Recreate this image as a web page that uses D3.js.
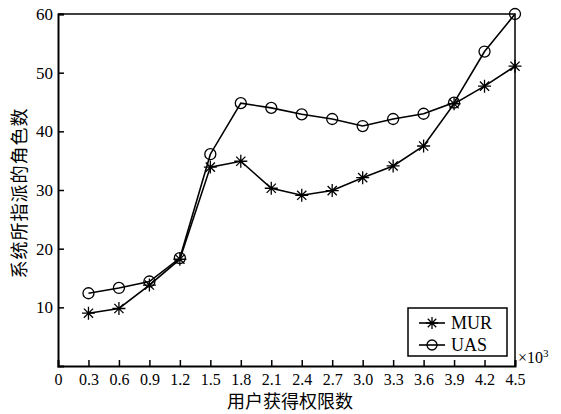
<!DOCTYPE html>
<html>
<head>
<meta charset="utf-8">
<script src="https://cdn.jsdelivr.net/npm/d3@7"></script>
<style>
  body { margin: 0; background: #fff; }
  svg text { fill: #000; }
</style>
</head>
<body>
<div id="chart"></div>
<script>
// values (x in thousands)
const xValues = [0.3, 0.6, 0.9, 1.2, 1.5, 1.8, 2.1, 2.4, 2.7, 3.0, 3.3, 3.6, 3.9, 4.2, 4.5];
const murValues = [9.0, 9.8, 13.8, 18.2, 33.9, 34.9, 30.3, 29.1, 29.9, 32.1, 34.1, 37.5, 44.7, 47.7, 51.1];
const uasValues = [12.4, 13.3, 14.4, 18.4, 36.1, 44.8, 44.0, 42.9, 42.1, 40.9, 42.1, 43.0, 44.9, 53.6, 60.0];
const xTickLabels = ["0", "0.3", "0.6", "0.9", "1.2", "1.5", "1.8", "2.1", "2.4", "2.7", "3.0", "3.3", "3.6", "3.9", "4.2", "4.5"];
const yTicks = [10, 20, 30, 40, 50, 60];
const seriesNames = ["MUR", "UAS"];

function draw() {
    const width = 561;
    const height = 414;
    const margin = { left: 58, right: 46, top: 14, bottom: 48 };

    const svg = d3.select("#chart")
        .append("svg")
        .attr("width", width)
        .attr("height", height);

    const x = d3.scaleLinear()
        .domain([0, 4.5])
        .range([margin.left, width - margin.right]);

    const y = d3.scaleLinear()
        .domain([0, 60])
        .range([height - margin.bottom, margin.top]);

    const serif = "'Liberation Serif'";
    const cjk = "'Noto Sans CJK SC'";

    // frame (top and right)
    svg.append("path")
        .attr("d", `M${x(0)},${y(60)}H${x(4.5)}V${y(0)}`)
        .attr("fill", "none")
        .attr("stroke", "#000")
        .attr("stroke-width", 1.5);

    // x axis, ticks pointing inward
    const xAxis = d3.axisBottom(x)
        .tickValues(xTickLabels.map(Number))
        .tickSize(-6)
        .tickPadding(8)
        .tickFormat((d, i) => xTickLabels[i]);

    const gx = svg.append("g")
        .attr("transform", `translate(0,${y(0)})`)
        .call(xAxis)
        .attr("font-family", serif)
        .attr("font-size", 16);
    gx.select(".domain").attr("stroke-width", 2);
    gx.selectAll(".tick line").attr("stroke-width", 1.5);
    gx.selectAll(".tick").filter(d => d === 0).select("line").remove();

    // y axis
    const yAxis = d3.axisLeft(y)
        .tickValues(yTicks)
        .tickSize(-6)
        .tickPadding(5);

    const gy = svg.append("g")
        .attr("transform", `translate(${x(0)},0)`)
        .call(yAxis)
        .attr("font-family", serif)
        .attr("font-size", 17);
    gy.select(".domain").attr("stroke-width", 2);
    gy.selectAll(".tick line").attr("stroke-width", 1.5);

    // axis titles
    svg.append("text")
        .attr("x", 290)
        .attr("y", 408)
        .attr("text-anchor", "middle")
        .attr("font-family", cjk)
        .attr("font-size", 18)
        .text("用户获得权限数");

    svg.append("text")
        .attr("transform", `translate(26,${(y(0) + y(60)) / 2 + 3}) rotate(-90)`)
        .attr("text-anchor", "middle")
        .attr("font-family", cjk)
        .attr("font-size", 18)
        .attr("letter-spacing", 1)
        .text("系统所指派的角色数");

    // ×10³
    const mult = svg.append("text")
        .attr("x", x(4.5) + 3)
        .attr("y", y(0) - 3)
        .attr("font-family", serif)
        .attr("font-size", 16)
        .text("×10");
    mult.append("tspan")
        .attr("dy", -6)
        .attr("font-size", 11)
        .text("3");

    const line = d3.line()
        .x(d => x(d[0]))
        .y(d => y(d[1]));

    const murData = xValues.map((v, i) => [v, murValues[i]]);
    const uasData = xValues.map((v, i) => [v, uasValues[i]]);

    function starPath(cx, cy, r) {
        let p = "";
        for (let k = 0; k < 4; k++) {
            const a = k * Math.PI / 4;
            const dx = r * Math.cos(a), dy = r * Math.sin(a);
            p += `M${cx - dx},${cy - dy}L${cx + dx},${cy + dy}`;
        }
        return p;
    }

    [[murData, "star"], [uasData, "circle"]].forEach(([data, marker]) => {
        const g = svg.append("g");
        g.append("path")
            .datum(data)
            .attr("d", line)
            .attr("fill", "none")
            .attr("stroke", "#000")
            .attr("stroke-width", 1.6);
        if (marker === "circle") {
            g.selectAll("circle")
                .data(data)
                .join("circle")
                .attr("cx", d => x(d[0]))
                .attr("cy", d => y(d[1]))
                .attr("r", 5.5)
                .attr("fill", "none")
                .attr("stroke", "#000")
                .attr("stroke-width", 1.3);
        } else {
            g.selectAll("path.m")
                .data(data)
                .join("path")
                .attr("class", "m")
                .attr("d", d => starPath(x(d[0]), y(d[1]), 6.5))
                .attr("stroke", "#000")
                .attr("stroke-width", 1.3);
        }
    });

    // legend
    const lg = svg.append("g");
    lg.append("rect")
        .attr("x", 408)
        .attr("y", 308)
        .attr("width", 99)
        .attr("height", 48)
        .attr("fill", "#fff")
        .attr("stroke", "#000")
        .attr("stroke-width", 1.5);

    seriesNames.forEach((name, i) => {
        const cy = 323 + i * 22;
        lg.append("line")
            .attr("x1", 419).attr("x2", 445)
            .attr("y1", cy).attr("y2", cy)
            .attr("stroke", "#000")
            .attr("stroke-width", 1.6);
        if (i === 0) {
            lg.append("path")
                .attr("d", starPath(432, cy, 6))
                .attr("stroke", "#000")
                .attr("stroke-width", 1.3);
        } else {
            lg.append("circle")
                .attr("cx", 432).attr("cy", cy).attr("r", 5)
                .attr("fill", "none")
                .attr("stroke", "#000")
                .attr("stroke-width", 1.3);
        }
        lg.append("text")
            .attr("x", 451)
            .attr("y", cy + 6)
            .attr("font-family", serif)
            .attr("font-size", 18)
            .text(name);
    });
}

window.onload = draw;
</script>
</body>
</html>
